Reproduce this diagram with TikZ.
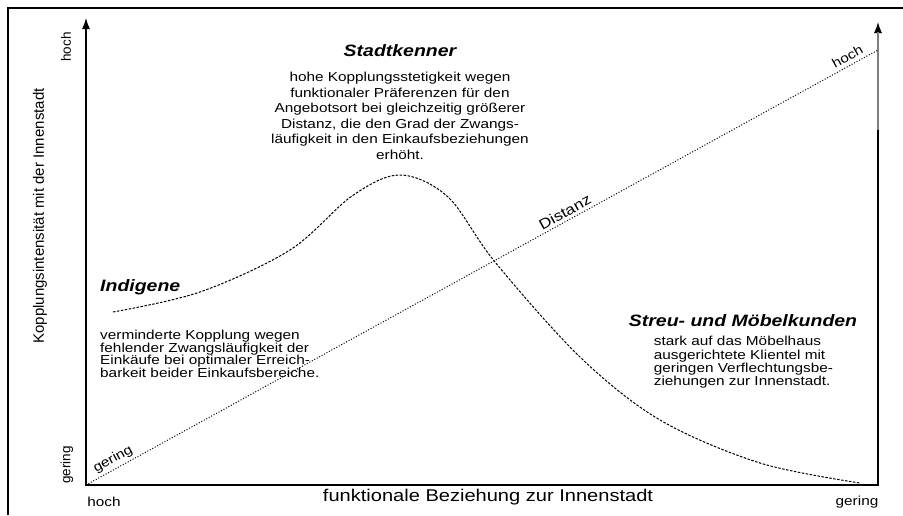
\documentclass[tikz,border=0pt]{standalone}
\usepackage{fontspec}
\setmainfont{Liberation Sans}[FakeStretch=1.18]
\newfontfamily\plainsans{Liberation Sans}
\usetikzlibrary{positioning, arrows.meta}
\tikzset{
    axisline/.style={line width=1.2pt, {Latex[length=11pt, width=8pt]}-{Latex[length=11pt, width=8pt]}},
    frameline/.style={line width=1.3pt},
    distline/.style={line width=1pt, dash pattern=on 1pt off 1.8pt},
    curve/.style={line width=1pt, dash pattern=on 2.5pt off 1.5pt},
    title/.style={font=\fontsize{16.5}{18}\selectfont\bfseries\itshape, inner sep=0pt},
    body/.style={font=\fontsize{13}{13.3}\selectfont, inner sep=0pt},
    tick/.style={font=\fontsize{13}{14}\selectfont, inner sep=0pt},
    sidetick/.style={font=\plainsans\fontsize{13.5}{14}\selectfont, inner sep=0pt, rotate=90},
    axislabel/.style={font=\fontsize{17}{18}\selectfont, inner sep=0pt}
}

\begin{document}
\begin{tikzpicture}[x=1pt, y=-1pt]
  \useasboundingbox (0,0) rectangle (903,515);
  \draw[frameline] (8,515) |- (903,8);
  % axes
  \coordinate (O) at (86,485);
  \coordinate (ytop) at (86,18);
  \coordinate (xend) at (878,485);
  \coordinate (rtop) at (878,22);
  \coordinate (dtop) at (878,50);
  \draw[axisline] (ytop) -- (O) -- (xend) -- (rtop);
  \draw[gray, line width=2.6pt] (878,32) -- (878,130);
  \node[sidetick] (yhoch) at (66,47) {hoch};
  \node[sidetick] (ygering) at (67,465) {gering};
  \node[font=\plainsans\fontsize{15}{16}\selectfont, rotate=90, inner sep=0pt] (ylabel) at (40,216) {Kopplungsintensität mit der Innenstadt};
  \node[tick] (xhoch) at (104,502) {hoch};
  \node[tick] (xgering) at (857,502) {gering};
  \node[axislabel] (xlabel) at (488,497) {funktionale Beziehung zur Innenstadt};
  % Distanz
  \draw[distline] (O) -- node[tick, pos=.04, sloped, above=3pt] (dgering) {gering}
    node[font=\fontsize{14.5}{16}\selectfont, inner sep=0pt, pos=.61, sloped, above=3pt] (dlabel) {Distanz}
    node[tick, pos=.967, sloped, above=4pt] (dhoch) {hoch} (dtop);
  % Kopplungskurve
  \draw[curve] plot[smooth, tension=.55] coordinates {(113,312) (200,292) (290,250) (352,196) (400,175) (448,197) (495,262) (580,357) (660,420) (760,463) (860,483)};
  % Typen
  \node[title] (stadtkenner) at (400,51) {Stadtkenner};
  \node[body, align=center, below=15pt of stadtkenner, font=\fontsize{13}{15.5}\selectfont] (stadttext) {hohe Kopplungsstetigkeit wegen\\funktionaler Präferenzen für den\\Angebotsort bei gleichzeitig größerer\\Distanz, die den Grad der Zwangs-\\läufigkeit in den Einkaufsbeziehungen\\erhöht.};
  \node[title, anchor=west] (indigene) at (100,287) {Indigene};
  \node[body, align=left, below right=35pt and 0pt of indigene.south west, font=\fontsize{13}{12.5}\selectfont] (indigtext) {verminderte Kopplung wegen\\fehlender Zwangsläufigkeit der\\Einkäufe bei optimaler Erreich-\\barkeit beider Einkaufsbereiche.};
  \node[title] (streu) at (743,321) {Streu- und Möbelkunden};
  \node[body, align=left, below right=9pt and 25pt of streu.south west] (streutext) {stark auf das Möbelhaus\\ausgerichtete Klientel mit\\geringen Verflechtungsbe-\\ziehungen zur Innenstadt.};
\end{tikzpicture}
\end{document}
